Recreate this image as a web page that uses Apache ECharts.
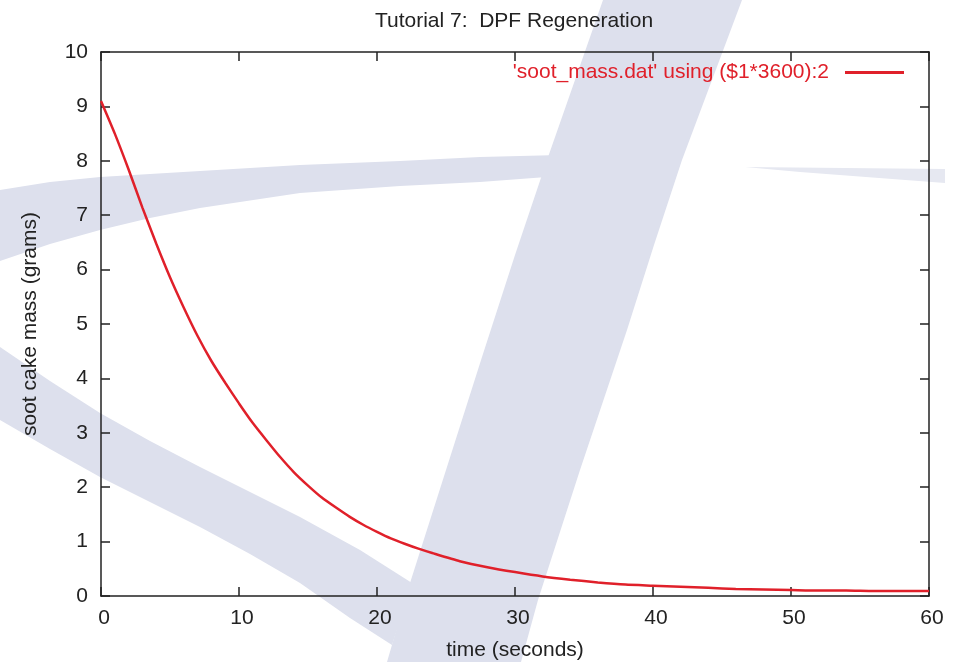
<!DOCTYPE html>
<html>
<head>
<meta charset="utf-8">
<script src="https://cdn.jsdelivr.net/npm/echarts@6/dist/echarts.min.js"></script>
<style>
html,body{margin:0;padding:0;background:#fff;}
#chart{width:962px;height:662px;}
</style>
</head>
<body>
<div id="chart"></div>
<script>
// values (time in seconds, mass in grams)
const timeSec = [0,1,2,3,4,5,6,7,8,9,10,11,12,13,14,15,16,17,18,19,20,21,22,23,24,26,28,30,32,34,36,38,40,42,44,46,48,50,52,54,56,58,60];
const sootMass = [9.10,8.50,7.84,7.14,6.48,5.86,5.30,4.78,4.32,3.92,3.54,3.18,2.86,2.55,2.27,2.03,1.81,1.63,1.46,1.31,1.18,1.06,0.96,0.87,0.79,0.64,0.53,0.44,0.36,0.30,0.25,0.21,0.19,0.17,0.15,0.13,0.12,0.11,0.10,0.10,0.09,0.09,0.09];
const titleText = 'Tutorial 7:  DPF Regeneration';
const seriesName = "'soot_mass.dat' using ($1*3600):2";
const xName = 'time (seconds)';
const yName = 'soot cake mass (grams)';

const font = "'Liberation Sans', Arial, Helvetica, sans-serif";
const ink = '#222';
const red = '#e0202a';
const wash = '#dde0ed';

// background watermark (decoration only)
const watermark = [
    [[603,0],[742,0],[712,80],[682,160],[654,245],[627,330],[580,470],[538,600],[521,662],[387,662],[410,583],[446,470],[482,357],[515,255],[547,160],[575,80]],
    [[0,190],[50,182],[100,177],[200,171],[300,165],[400,161],[480,157],[560,155],[560,176],[480,182],[400,186],[300,193],[200,208],[150,218],[100,230],[50,244],[0,261]],
    [[0,347],[50,381],[100,413],[150,441],[200,467],[300,517],[360,550],[412,583],[392,645],[350,618],[300,583],[250,554],[200,527],[150,502],[100,477],[50,449],[0,420]]
];

function frameAxis(pos, extra) {
    return Object.assign({
        type:'value',
        position:pos,
        axisLine:{show:true, onZero:false, lineStyle:{color:ink, width:1.5}},
        axisTick:{show:true, inside:true, length:9, lineStyle:{color:ink, width:1.5}},
        splitLine:{show:false},
        axisLabel:{show:false}
    }, extra);
}

const chart = echarts.init(document.getElementById('chart'), null, {renderer:'canvas'});
const option = {
    animation:false,
    backgroundColor:'#fff',
    title:{
        text:titleText,
        left:509,
        top:6,
        textAlign:'center',
        textStyle:{fontFamily:font, fontSize:21, fontWeight:'normal', color:ink}
    },
    legend:{
        data:[{name:seriesName, icon:'rect'}],
        right:53,
        top:57,
        align:'right',
        itemWidth:59,
        itemHeight:3,
        textStyle:{fontFamily:font, fontSize:21, color:red, padding:[0,11,0,0]}
    },
    graphic:watermark.map(function(pts) {
        return {type:'polygon', z:-10, silent:true, shape:{points:pts}, style:{fill:wash}};
    }).concat([{
        type:'polygon', z:-10, silent:true,
        shape:{points:[[745,167],[945,169],[945,183],[800,172]]},
        style:{fill:'#e6e8f1'}
    }]),
    grid:{left:101, right:33, top:52, bottom:66, outerBoundsMode:'none', containLabel:false},
    xAxis:[
        frameAxis('bottom', {
            min:0, max:60, interval:10,
            name:xName, nameLocation:'middle', nameGap:44,
            nameTextStyle:{fontFamily:font, fontSize:21, color:ink},
            axisLabel:{show:true, margin:12, padding:[0,0,0,6], fontFamily:font, fontSize:21, color:ink}
        }),
        frameAxis('top', {min:0, max:60, interval:10})
    ],
    yAxis:[
        frameAxis('left', {
            min:0, max:10, interval:1,
            name:yName, nameLocation:'middle', nameGap:60,
            nameTextStyle:{fontFamily:font, fontSize:21, color:ink},
            axisLabel:{show:true, margin:13, fontFamily:font, fontSize:21, color:ink}
        }),
        frameAxis('right', {min:0, max:10, interval:1})
    ],
    series:[{
        name:seriesName,
        type:'line',
        xAxisIndex:0,
        yAxisIndex:0,
        data:timeSec.map(function(t, i) { return [t, sootMass[i]]; }),
        symbol:'none',
        smooth:0.2,
        lineStyle:{color:red, width:2.5},
        itemStyle:{color:red}
    }]
};
chart.setOption(option);
</script>
</body>
</html>
